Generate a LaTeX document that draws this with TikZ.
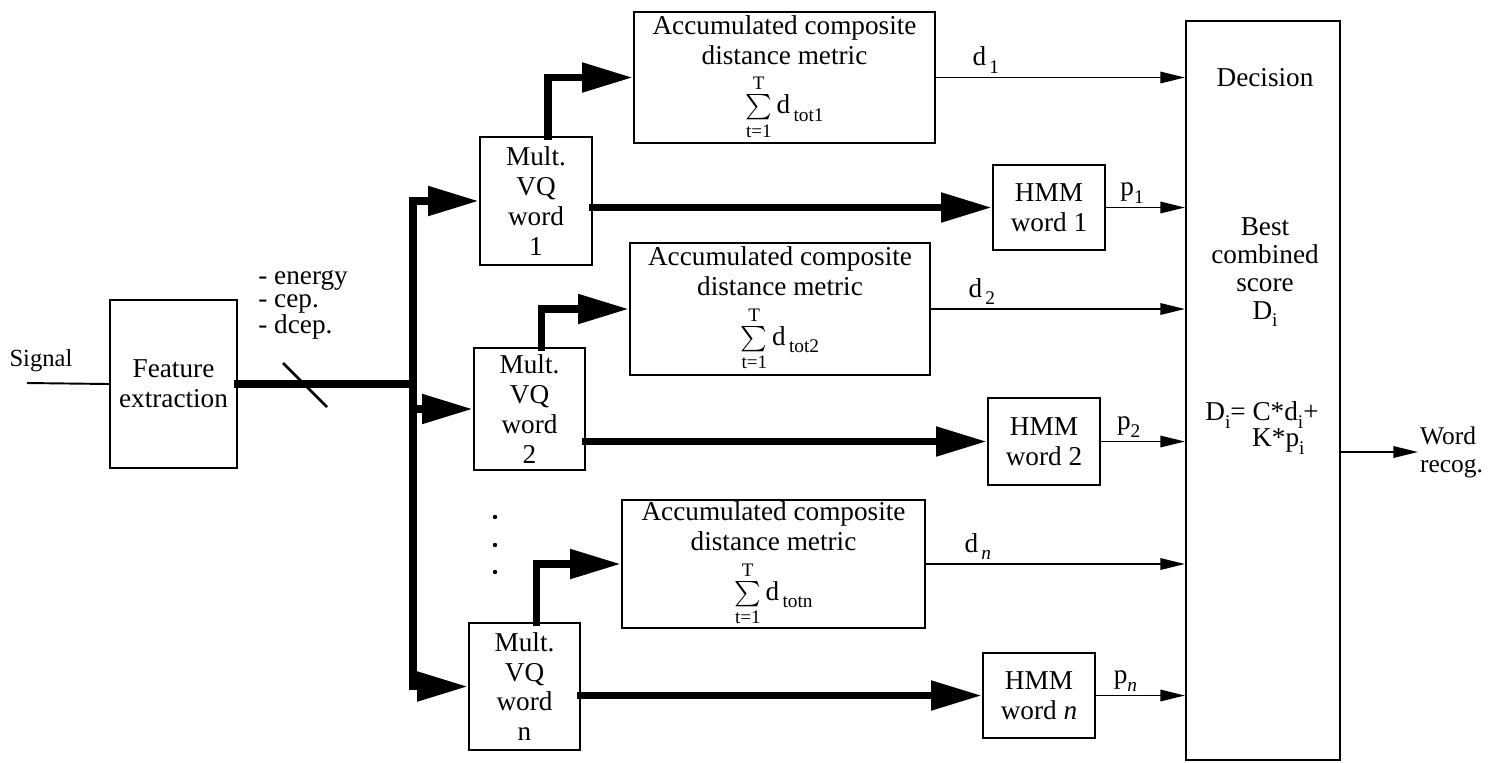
\documentclass[tikz,border=0pt]{standalone}
\usepackage{amsmath}
\usepackage{fontspec}
\setmainfont{Liberation Serif}
\usetikzlibrary{arrows.meta}
\newcommand{\lowsub}[1]{\raisebox{-0.6ex}{\fontsize{11}{12}\selectfont #1}}
\newcommand{\accbody}[1]{Accumulated composite\\distance metric\\[5pt]$\sum\limits_{\text{t=1}}^{\text{T}}$\,d\lowsub{\,tot#1}}

\begin{document}
\begin{tikzpicture}[x=0.02cm, y=-0.02cm, font=\fontsize{15.5}{17}\selectfont,
  box/.style={draw, line width=1.2pt, align=center, inner sep=1pt},
  bus/.style={line width=4.5pt, line cap=rect},
  bigtip/.style={-{Triangle[length=29pt, width=16pt]}},
  sig/.style={line width=1.1pt, -{Triangle[length=14pt, width=6.5pt]}},
  lbl/.style={above, inner sep=2pt}]
  \useasboundingbox (0,0) rectangle (1506,762);

  % input side
  \node[font=\fontsize{14}{16}\selectfont] (signal) at (41,361) {Signal};
  \coordinate (sigin) at (27,383);
  \node[box, minimum width=2.54cm, minimum height=3.36cm] (feat) at (173.5,384) {Feature\\extraction};
  \node[align=left, anchor=north west, inner sep=0pt, font=\fontsize{15.5}{13}\selectfont]
    (feats) at (258,270) {- energy\\- cep.\\- dcep.};
  \coordinate (bustop) at (413,201);
  \coordinate (busbot) at (413,686.5);

  % vector quantizers
  \node[box, minimum width=2.24cm, minimum height=2.56cm] (mult1) at (536,201) {Mult.\\VQ\\word\\1};
  \node[box, minimum width=2.22cm, minimum height=2.44cm] (mult2) at (529.5,409) {Mult.\\VQ\\word\\2};
  \node[box, minimum width=2.22cm, minimum height=2.54cm] (multn) at (524.5,686.5) {Mult.\\VQ\\word\\n};
  \foreach \y in {517,545,572} \fill (495,\y) circle (2.2);

  % distance metric boxes
  \node[box, minimum width=6.02cm, minimum height=2.62cm] (acc1) at (784.5,77.5) {\accbody{1}};
  \node[box, minimum width=6.00cm, minimum height=2.64cm] (acc2) at (780,309) {\accbody{2}};
  \node[box, minimum width=6.06cm, minimum height=2.56cm] (accn) at (773.5,564) {\accbody{n}};

  % HMMs
  \node[box, minimum width=2.24cm, minimum height=1.70cm] (hmm1) at (1049,207.5) {HMM\\word 1};
  \node[box, minimum width=2.24cm, minimum height=1.74cm] (hmm2) at (1044,441.5) {HMM\\word 2};
  \node[box, minimum width=2.24cm, minimum height=1.70cm] (hmmn) at (1039,695.5) {HMM\\word \textit{n}};

  % decision
  \node[box, minimum width=3.08cm, minimum height=14.78cm] (dec) at (1263,390.5) {};
  \node (dectitle) at (1265,78) {Decision};
  \node[align=center, font=\fontsize{15.5}{16}\selectfont] (best) at (1265,272) {Best\\combined\\score\\D\lowsub{i}};
  \node[align=center, font=\fontsize{15.5}{15}\selectfont] (formula) at (1262,428)
    {D\lowsub{i}= C*d\lowsub{i}+\\\hspace*{1.2em}K*p\lowsub{i}};
  \node[align=left, anchor=west, inner sep=1pt, font=\fontsize{14.5}{16}\selectfont] (word) at (1418,452) {Word\\recog.};

  % connectors
  \draw[line width=1.1pt] (sigin) -- (feat.west);
  \draw[bus] (feat.east) -- (feat.east -| bustop);
  \draw[line width=1.6pt] (283,363) -- (327,407);
  \draw[bus] (bustop) -- (busbot);
  \draw[bus, bigtip] (bustop) -- (mult1.west);
  \draw[bus, bigtip] (bustop |- mult2.west) -- (mult2.west);
  \draw[bus, bigtip] (busbot) -- (multn.west);
  \foreach \k/\s in {1/1, 2/2, n/\textit{n}} {
    \draw[bus, bigtip] ([xshift=0.24cm]mult\k.north) |- (acc\k.west);
    \draw[bus, bigtip] (mult\k.east |- hmm\k.west) -- (hmm\k.west);
    \draw[sig] (acc\k.east) -- node[lbl, pos=0.2] {d\lowsub{\,\s}} (acc\k.east -| dec.west);
    \draw[sig] (hmm\k.east) -- node[lbl, pos=0.33] {p\lowsub{\s}} (hmm\k.east -| dec.west);
  }
  \draw[sig] (dec.east |- word.west) -- (word.west);
\end{tikzpicture}
\end{document}
